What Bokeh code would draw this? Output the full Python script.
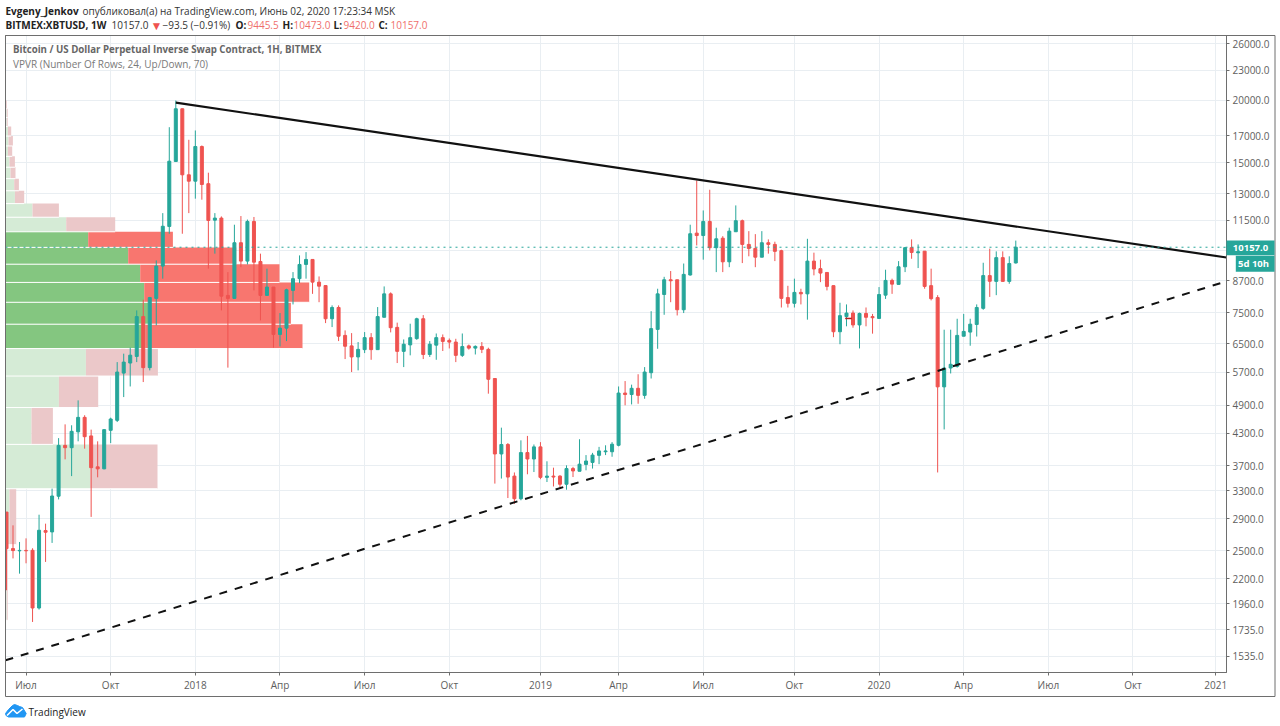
from bokeh.plotting import figure, ColumnDataSource
from bokeh.layouts import column
from bokeh.core.properties import value
from bokeh.models import (Range1d, FixedTicker, NumeralTickFormatter, Span)
from bokeh.embed import file_html
from bokeh.resources import INLINE

opens = [2990,2526,2500,2505,2506,1920,2745,2728,3217,4068,
 4025,4331,4630,4250,3684,3650,4361,4567,5680,5950,
 6134,7373,5825,8020,9310,11180,15090,19250,14190,13780,
 16170,13620,11510,11620,8130,8020,10370,9527,11440,9510,
 8130,8450,6790,6990,8321,8785,9380,9600,8645,8510,
 7300,7690,6760,6440,6120,6330,6690,6330,7350,8190,
 7015,6280,6470,6660,7300,6190,6462,6690,6606,6555,
 6165,6440,6375,6420,6338,5540,3910,4085,3530,3180,
 3935,3820,4040,3510,3530,3530,3400,3655,3610,3725,
 3760,3885,3950,3950,4070,5180,5145,5295,5125,5690,
 6950,8165,8740,8740,7610,8935,10840,10720,11440,10135,
 10590,9495,10910,11480,10290,10100,9700,10370,10290,9995,
 8050,7840,8245,8190,9527,9200,9040,8505,6875,7373,
 7495,7095,7480,7373,7310,8140,8714,8555,9280,10135,
 9900,9975,8505,8050,5330,5815,5860,6735,6865,7110,
 7660,8910,8675,9680,8675,9445.5]
closes = [2526,2503,2505,2500,1920,2749,2724,3220,4068,4025,
 4341,4630,4235,3670,3650,4375,4595,5708,5976,6170,
 7373,5825,8050,9310,11190,15110,19250,14190,13780,16170,
 13570,11494,11620,8103,8020,10370,9527,11440,9480,8130,
 8450,6790,6990,8345,8785,9380,9600,8645,8485,7300,
 7690,6735,6430,6120,6338,6690,6330,7373,8190,7005,
 6280,6490,6690,7300,6190,6490,6690,6575,6555,6165,
 6420,6375,6425,6338,5520,3910,4085,3515,3180,3935,
 3820,4040,3510,3530,3515,3400,3655,3615,3730,3785,
 3890,3965,3965,4090,5180,5145,5295,5125,5708,6975,
 8190,8740,8700,7610,8960,10810,10720,11440,10135,10560,
 9495,10940,11480,10290,10100,9700,10370,10290,9965,8020,
 7840,8245,8190,9527,9185,9015,8475,6875,7405,7495,
 7095,7480,7350,7335,8165,8714,8565,9280,10135,9915,
 9945,8475,8010,5330,5815,5915,6760,6885,7120,7690,
 8910,8680,9680,8675,9420,10157]
highs = [2990,2812,2604,2648,2530,2954,2834,3332,4207,4483,
 4464,5008,4676,4375,4145,4380,4624,5976,6213,6386,
 7587,7972,8075,9557,11890,17680,20000,19270,16680,17414,
 16250,14330,11890,11710,9055,11270,11730,11540,11680,9860,
 9200,8450,7495,8385,9055,9780,9930,9600,8875,8510,
 7765,7765,6918,6832,6555,6865,6832,7705,8475,8245,
 7170,6635,7135,7335,7425,6585,6820,6790,6665,6655,
 6820,6480,6455,6555,6387,5545,4415,4112,3590,4164,
 4250,4085,4130,3780,3670,3545,3710,3684,4185,3890,
 3930,4040,4070,4130,5340,5475,5385,5650,5840,7560,
 8385,8860,9100,8740,9420,11270,13825,12037,13245,11115,
 10690,11115,12320,11540,10940,10790,10940,10530,10420,10040,
 8500,8785,8385,10560,9905,9590,9040,8510,7860,7800,
 7587,7510,7690,7465,8450,9155,8785,9527,10165,10530,
 10290,9975,9200,8140,6940,6940,7300,7465,7300,7800,
 9455,10090,9965,9965,9740,10473]
lows = [2084,2414,2250,2360,1800,1906,2375,2593,3170,3814,
 3530,4145,4007,2924,3510,3645,4112,4531,5085,5340,
 5976,5450,5752,7080,8785,10810,15090,10810,11890,12710,
 12650,9200,9860,7587,5825,8020,9263,9380,8321,7245,
 8130,6387,6425,6585,7800,8605,8785,8190,7880,7155,
 7025,6585,6060,5708,5752,6230,6040,6330,7350,6855,
 5950,5840,6165,6625,6060,6120,6040,6290,6365,5976,
 6120,6330,6190,6230,5165,3410,3490,3190,3105,3157,
 3560,3597,3480,3435,3365,3345,3315,3515,3610,3626,
 3655,3730,3890,3860,4050,4895,4915,4930,5045,5540,
 6355,7435,7880,7412,7495,8910,10240,9590,10008,9055,
 9055,9263,10910,9440,9740,9263,9700,9860,9527,7690,
 7690,7690,7800,7270,8920,8645,8321,6705,6490,7050,
 7005,6365,7050,6815,7310,8000,8190,8555,9055,9630,
 9225,8385,7946,3590,4380,5670,5825,6735,6445,6725,
 7610,8075,8140,8675,8580,9420]

# Volume profile rows (bottom to top)
vp_bottom = [1814,2572,3330,4087,4845,5603,6361,7119,7877,8634,9392,10150,
             10908,11666,12423,13181,13939,14697,15455,16212,16970,17728,18486,19243]
vp_top = [2572,3330,4087,4845,5603,6361,7119,7877,8634,9392,10150,10908,
          11666,12423,13181,13939,14697,15455,16212,16970,17728,18486,19243,20001]
vp_up = [1.2,4,84.7,26,53.4,80.4,139.7,142.7,138.7,134.7,122.7,82.7,
         60.7,27,9.4,8.7,5,4,2.4,3,2.4,1.2,1.2,0.7]
vp_down = [1,6.7,67.3,21.4,39.3,72,157.3,142.7,165,139.3,108,84.7,
           49,26.4,9.3,4.7,5,5.4,4.3,4.4,3.3,1,1,0.7]
vp_value_area = [0,0,0,0,0,0,1,1,1,1,1,1,0,0,0,0,0,0,0,0,0,0,0,0]

y_ticks = [26000,23000,20000,17000,15000,13000,11500,10000,8700,7500,6500,5700,
           4900,4300,3700,3300,2900,2500,2200,1960,1735,1535]
x_ticks = [3,16,29,42,55,68,82,94,107,121,134,147,160,173,185.7]
x_tick_labels = ["Июл","Окт","2018","Апр","Июл","Окт","2019","Апр","Июл","Окт","2020","Апр","Июл","Окт","2021"]

resistance_x = [26,187.36]; resistance_y = [19800,9686]
support_x = [-0.154,187.36]; support_y = [1508,8680]
mark_x = [128.8,129.8]; mark_y = [7310,7310]
last_price = 10157

TEAL="#26A69A"; RED="#EF5350"
FONT="Open Sans"

p = figure(width=1280, height=726, output_backend="svg", toolbar_location=None,
           y_axis_type="log", x_range=Range1d(-0.154,187.36), y_range=Range1d(1425.4,27000),
           min_border_left=5, min_border_right=54, min_border_top=35, min_border_bottom=54,
           y_axis_location="right", background_fill_color="white", margin=(0,0,0,0))
p.frame_align=False
p.extra_x_ranges = {"vol": Range1d(0,1221)}

p.xgrid.grid_line_color="#E9EEF2"; p.ygrid.grid_line_color="#E9EEF2"
p.xgrid.ticker=FixedTicker(ticks=x_ticks); p.ygrid.ticker=FixedTicker(ticks=y_ticks)

p.xaxis.ticker=FixedTicker(ticks=x_ticks)
p.xaxis.major_label_overrides={t:l for t,l in zip(x_ticks,x_tick_labels)}
p.yaxis.ticker=FixedTicker(ticks=y_ticks)
p.yaxis.formatter=NumeralTickFormatter(format="0.0")
for ax in (p.xaxis[0],p.yaxis[0]):
    ax.axis_line_color="#6E6E6E"; ax.major_tick_line_color="#6E6E6E"
    ax.major_tick_out=3; ax.major_tick_in=0; ax.minor_tick_line_color=None
    ax.major_label_text_font=FONT; ax.major_label_text_font_size="10px"
    ax.major_label_text_color="#5E5E5E"
p.xaxis.major_label_standoff=2
p.yaxis.major_label_standoff=3
p.outline_line_color="#6E6E6E"

# Volume profile
for va,cu,cd in ((0,"#D5EBD6","#EBC8C9"),(1,"#84C680","#F8766F")):
    idx=[i for i,v in enumerate(vp_value_area) if v==va]
    b=[vp_bottom[i] for i in idx]; t=[vp_top[i] for i in idx]
    u=[vp_up[i] for i in idx]; d=[vp_down[i] for i in idx]
    p.quad(left=[0]*len(idx),right=u,bottom=b,top=t,x_range_name="vol",fill_color=cu,line_color=None)
    p.quad(left=u,right=[a+c for a,c in zip(u,d)],bottom=b,top=t,x_range_name="vol",fill_color=cd,line_color=None)
p.segment(x0=[0]*len(vp_bottom),x1=[a+c for a,c in zip(vp_up,vp_down)],y0=vp_bottom,y1=vp_bottom,
          x_range_name="vol",line_color="white",line_width=1)

colors=[TEAL if c>=o else RED for o,c in zip(opens,closes)]
src=ColumnDataSource(dict(x=list(range(len(opens))),o=opens,h=highs,l=lows,c=closes,col=colors,
    top=[max(a,b) for a,b in zip(opens,closes)],bot=[min(a,b) for a,b in zip(opens,closes)]))
p.segment(x0="x",x1="x",y0="l",y1="h",color="col",line_width=1,source=src)
p.vbar(x="x",width=0.46,top="top",bottom="bot",fill_color="col",line_color="col",line_width=1,source=src)

p.line(mark_x,mark_y,line_color="#B71C1C",line_width=1.5)
p.line(resistance_x,resistance_y,line_color="#111111",line_width=2.2)
p.line(support_x,support_y,line_color="#111111",line_width=2,line_dash=[8,8])
p.add_layout(Span(location=last_price,dimension="width",line_color=TEAL,line_width=1,line_dash="dotted"))

# Transparent page-sized layer above the chart for the texts around it (x, y are page pixels)
q = figure(width=1280, height=726, output_backend="svg", toolbar_location=None,
           x_range=Range1d(0,1280), y_range=Range1d(726,0), x_axis_type=None, y_axis_type=None,
           min_border=0, background_fill_color=None, border_fill_color=None, outline_line_color=None,
           margin=(-726,0,0,0))
q.frame_align=False
q.xgrid.visible=False; q.ygrid.visible=False

def lab(x,y,t,color="#444444",size="10px",bold=False,align="left"):
    q.text(x=[x],y=[y],text=[t],text_color=color,text_font=value(FONT),text_font_size=size,
           text_font_style="bold" if bold else "normal",text_align=align,text_baseline="middle")

# header
lab(5,10.5,"Evgeny_Jenkov",color="#222222",bold=True)
lab(82,10.5,"опубликовал(а) на TradingView.com, Июнь 02, 2020 17:23:34 MSK",color="#333333")
L2=24.5
lab(5,L2,"BITMEX:XBTUSD, 1W",color="#222222",bold=True)
lab(111,L2,"10157.0",color="#333333")
lab(150,L2,"▼",color=RED,size="12px")
lab(162,L2,"−93.5 (−0.91%)",color="#333333")
for xa,ta,xb,tb in ((235,"O:",247,"9445.5"),(282,"H:",293,"10473.0"),(333,"L:",343,"9420.0"),(378,"C:",390,"10157.0")):
    lab(xa,L2,ta,color="#222222",bold=True)
    lab(xb,L2,tb,color="#EF6F6C")
lab(12.5,49,"Bitcoin / US Dollar Perpetual Inverse Swap Contract, 1H, BITMEX",color="#666666",size="9.7px",bold=True)
lab(12.5,63,"VPVR (Number Of Rows, 24, Up/Down, 70)",color="#7A7A7A",size="10px")

# outer frame of the axes
q.quad(left=[5],right=[1274.5],top=[35],bottom=[696],fill_color=None,line_color="#6E6E6E",line_width=1)

# price labels
q.quad(left=[1226,1235.3],right=[1274,1274],top=[240,255.3],bottom=[254.7,271.3],fill_color=TEAL,line_color=None)
lab(1250,247.3,"10157.0",color="white",size="9.5px",bold=True,align="center")
lab(1253,263.3,"5d 10h",color="white",size="9.5px",bold=True,align="center")

# logo
lab(28,711,"TradingView",color="#222222",size="10px")
q.patch(x=[5,8,12,14,17,19,22,25.7,24,8,5.5],y=[713,709,705,704,705,706,707,713,716.5,716.5,715],
        fill_color="#2196F3",line_color="#2196F3")
q.line(x=[6.5,12.5,16.5,22],y=[715,709,713,708.5],line_color="white",line_width=1.6)

open("out.html","w").write(file_html(column(p,q,spacing=0),INLINE))
